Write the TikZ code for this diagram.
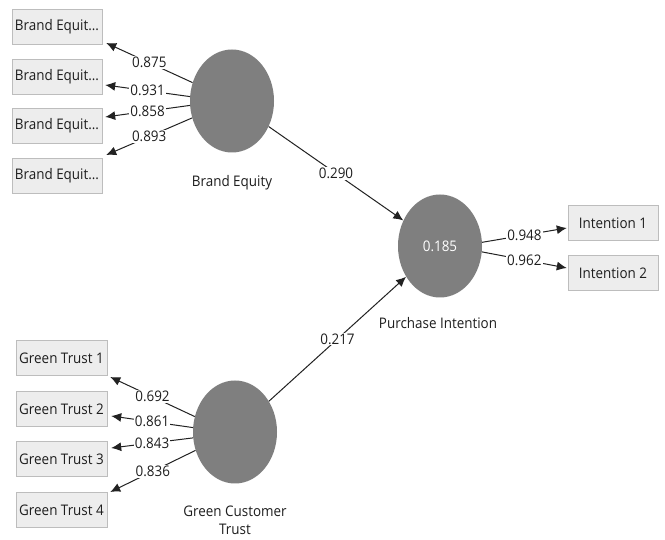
\documentclass[tikz,border=0pt]{standalone}
\usepackage{fontspec}
\setmainfont{Open Sans}[FakeStretch=0.92]
\usetikzlibrary{shapes.geometric,arrows.meta}
\definecolor{lvgray}{HTML}{7F7F7F}
\definecolor{boxfill}{HTML}{EDEDED}
\definecolor{boxborder}{HTML}{BDBDBD}
\definecolor{linecol}{HTML}{222222}
\definecolor{txtcol}{HTML}{1E1E1E}
\begin{document}
\begin{tikzpicture}[x=1pt,y=-1pt,
  every node/.style={text=txtcol},
  lv/.style={ellipse, fill=lvgray, draw=none, minimum width=84pt, minimum height=103pt, inner sep=0pt},
  ind/.style={draw=boxborder, fill=boxfill, minimum width=90pt, minimum height=35pt, inner sep=0pt, font=\fontsize{14.6}{16}\selectfont},
  lnk/.style={draw=linecol, line width=1pt, -{Latex[length=10pt,width=9pt]}},
  wt/.style={fill=white, inner sep=1pt, pos=0.5, font=\fontsize{14.6}{16}\selectfont},
  lab/.style={font=\fontsize{14.6}{16}\selectfont, align=center},
]
\fill[white] (0,0) rectangle (665,540);
% latent variables
\node[lv] (be) at (232,101) {};
\node[lv] (gt) at (235,432) {};
\node[lv] (pi) at (440,246) {};
\node[lab, text=white] at (pi) {0.185};
\node[lab] (bel) at (232,183) {Brand Equity};
\node[lab] (pil) at (438,323) {Purchase Intention};
\node[lab] (gtl) at (235,520) {Green Customer\\[2pt]Trust};
% indicators
\node[ind] (b1) at (57,27) {Brand Equit...};
\node[ind] (b2) at (57,77) {Brand Equit...};
\node[ind] (b3) at (57,126) {Brand Equit...};
\node[ind] (b4) at (57,176) {Brand Equit...};
\node[ind, minimum width=91pt] (g1) at (61.5,358) {Green Trust 1};
\node[ind, minimum width=91pt] (g2) at (61.5,409) {Green Trust 2};
\node[ind, minimum width=91pt] (g3) at (61.5,459) {Green Trust 3};
\node[ind, minimum width=91pt] (g4) at (61.5,510) {Green Trust 4};
\node[ind] (i1) at (613,223) {Intention 1};
\node[ind] (i2) at (613,273) {Intention 2};
% outer loadings
\draw[lnk] (be.155.8) -- node[wt]{0.875} ([shift={(4,16)}]b1.east);
\draw[lnk] (be.174.6) -- node[wt]{0.931} ([shift={(3,8)}]b2.east);
\draw[lnk] (be.186.8) -- node[wt]{0.858} ([shift={(3,-9)}]b3.east);
\draw[lnk] (be.203) -- node[wt]{0.893} ([shift={(4,-21)}]b4.east);
\draw[lnk] (gt.159.4) -- node[wt]{0.692} ([shift={(3,19)}]g1.east);
\draw[lnk] (gt.174.7) -- node[wt]{0.861} ([shift={(4,7)}]g2.east);
\draw[lnk] (gt.188) -- node[wt]{0.843} ([shift={(4,-11)}]g3.east);
\draw[lnk] (gt.205) -- node[wt]{0.836} ([shift={(3,-18)}]g4.east);
\draw[lnk] (pi.5.4) -- node[wt]{0.948} ([shift={(-1,5)}]i1.west);
\draw[lnk] (pi.352) -- node[wt]{0.962} ([shift={(-1,-5)}]i2.west);
% structural paths
\draw[lnk] (be) -- node[wt]{0.290} (pi);
\draw[lnk] (gt) -- node[wt]{0.217} (pi);
\end{tikzpicture}
\end{document}
